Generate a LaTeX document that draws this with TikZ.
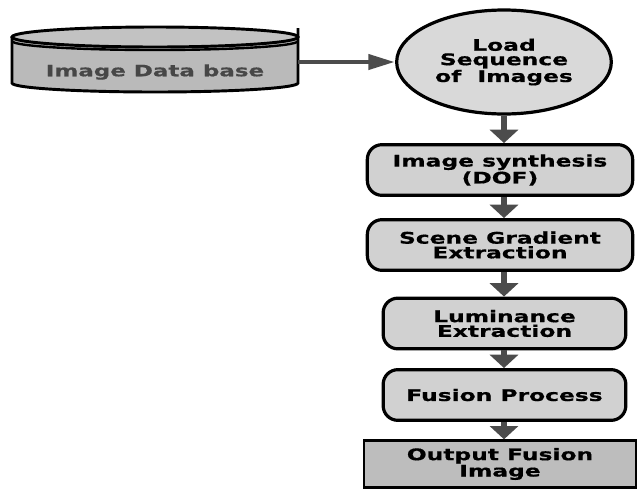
\documentclass[tikz,border=0pt]{standalone}
\usepackage{fontspec}
\setmainfont{DejaVu Sans}[FakeStretch=1.46,BoldFeatures={FakeBold=0.6}]
\usepackage{tikz}
\usetikzlibrary{shapes.geometric,arrows.meta}
\colorlet{boxgray}{black!18}
\colorlet{loadgray}{black!15}
\colorlet{outgray}{black!26}
\colorlet{dbgray}{black!27}
\colorlet{dbtop}{black!24}
\colorlet{arrgray}{black!70}
\colorlet{dbtextgray}{black!72}
\tikzset{
  stepbox/.style={draw,line width=2.4pt,rounded corners=11pt,fill=boxgray,
    align=center,inner sep=0pt,minimum height=38pt,
    font=\bfseries\fontsize{12}{11}\selectfont},
  flow/.style={draw=arrgray,line width=4.5pt,-{Triangle[width=21pt,length=10pt]}},
  feed/.style={draw=arrgray,line width=3.6pt,-{Triangle[width=11pt,length=20pt]}}
}

\begin{document}
\begin{tikzpicture}[x=0.75pt,y=-0.75pt]
      \useasboundingbox (0,0) rectangle (637,490);

      % database
      \fill[dbgray] (12,37) -- (12,83) arc[start angle=180,end angle=0,x radius=143,y radius=9] -- (298,37) -- cycle;
      \draw[line width=2.2pt] (12,37) -- (12,83) arc[start angle=180,end angle=0,x radius=143,y radius=9] -- (298,28);
      \draw[line width=2.2pt,fill=dbtop] (155,37) ellipse[x radius=143,y radius=10];
      \draw[line width=1.8pt] (12,41) arc[start angle=180,end angle=0,x radius=143,y radius=9];
      \node[minimum width=214.5pt,inner sep=0pt,text=dbtextgray,font=\bfseries\fontsize{11.8}{14}\selectfont] (db) at (155,72) {Image Data base};

      \node[ellipse,draw,line width=2.4pt,fill=loadgray,inner sep=0pt,minimum width=161pt,minimum height=78pt,
        align=center,font=\bfseries\fontsize{12}{10.8}\selectfont] (load) at (504,62) {Load\\Sequence\\of~ Images};

      \node[stepbox,minimum width=199pt] (syn) at (500,170) {Image synthesis\\(DOF)};
      \node[stepbox,minimum width=199pt] (grad) at (500,245) {Scene Gradient\\Extraction};
      \node[stepbox,minimum width=182pt] (lum) at (504.5,323.5) {Luminance\\Extraction};
      \node[stepbox,minimum width=182pt] (fus) at (504.5,395) {Fusion Process};
      \node[draw,line width=2pt,fill=outgray,align=center,inner sep=0pt,minimum width=204pt,minimum height=35pt,
        font=\bfseries\fontsize{12}{11}\selectfont] (out) at (500,464) {Output Fusion\\Image};

      \draw[feed] (db.east |- load.west) -- (load.west);
      \draw[flow] (load.south) -- (load.south |- syn.north);
      \draw[flow] (load.south |- syn.south) -- (load.south |- grad.north);
      \draw[flow] (load.south |- grad.south) -- (load.south |- lum.north);
      \draw[flow] (load.south |- lum.south) -- (load.south |- fus.north);
      \draw[flow] (load.south |- fus.south) -- (load.south |- out.north);

    \end{tikzpicture}
\end{document}
